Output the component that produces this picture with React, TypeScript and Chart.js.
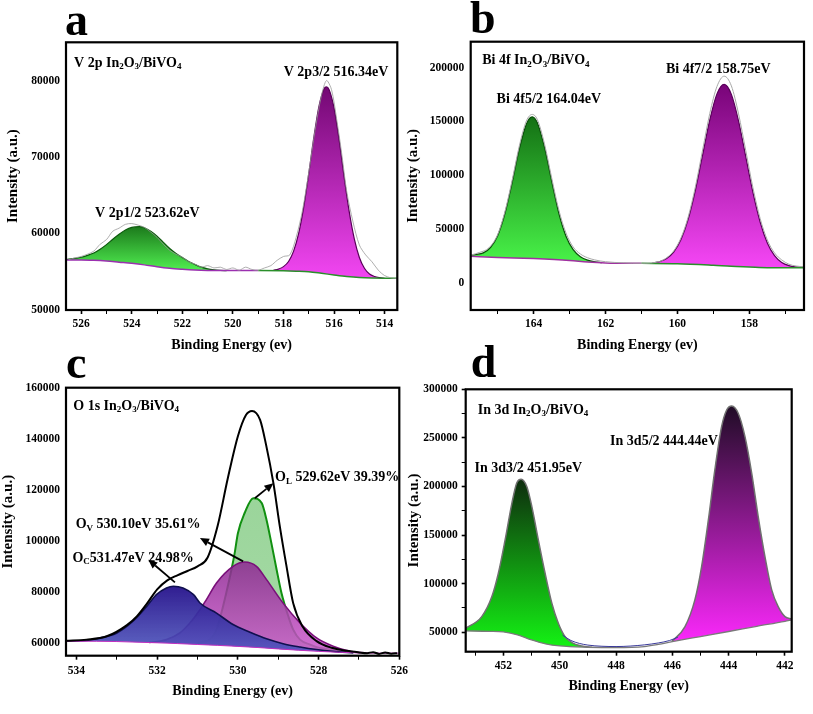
import React, { useEffect, useRef } from 'react';
import { Chart, registerables } from 'chart.js';

Chart.register(...registerables);

const W = 813;
const H = 714;
const SERIF = '"Liberation Serif", "Times New Roman", Times, serif';

// ---------------- Panel a : V 2p ----------------
const aXMajor = [526, 524, 522, 520, 518, 516, 514];
const aXMinor = [525, 523, 521, 519, 517, 515];
const aYMajor = [50000, 60000, 70000, 80000];
const aRawE = [526.5, 526.25, 526, 525.75, 525.5, 525.25, 525, 524.75, 524.5, 524.25, 524, 523.75, 523.5, 523.25, 523, 522.75, 522.5, 522.25, 522, 521.75, 521.5, 521.25, 521, 520.75, 520.5, 520.25, 520, 519.75, 519.5, 519.25, 519, 518.75, 518.5, 518.25, 518, 517.75, 517.5, 517.25, 517, 516.75, 516.5, 516.3, 516.1, 515.9, 515.7, 515.5, 515.25, 515, 514.75, 514.5, 514.25, 514, 513.75, 513.5];
const aRawI = [56600, 56800, 57000, 57300, 57700, 58600, 59200, 60300, 60700, 61200, 61300, 61100, 60800, 60200, 59500, 58600, 57800, 57300, 56900, 56300, 56000, 55600, 55800, 55500, 55600, 55300, 55500, 55200, 55600, 55300, 55200, 55500, 55800, 56500, 57000, 57200, 59500, 63000, 68000, 73500, 78000, 80000, 78800, 75000, 70500, 65500, 61500, 58500, 57200, 56300, 55200, 54500, 54200, 54100];
const aBgE = [526.6, 526, 525.5, 525, 524.5, 524, 523.5, 523, 522.5, 522, 521.5, 521, 520, 519, 518, 517.5, 517, 516.5, 516, 515.5, 515, 514.5, 514, 513.5];
const aBgI = [56550, 56550, 56500, 56400, 56250, 56100, 55900, 55650, 55450, 55320, 55220, 55170, 55150, 55150, 55130, 55080, 55000, 54800, 54580, 54380, 54240, 54170, 54150, 54150];
const a12E = [526.6, 526.25, 526, 525.75, 525.5, 525.25, 525, 524.75, 524.5, 524.25, 524, 523.7, 523.5, 523.25, 523, 522.75, 522.5, 522.25, 522, 521.75, 521.5, 521.25, 521, 520.75, 520.5, 520.25];
const a12I = [56600, 56750, 56900, 57150, 57450, 57950, 58550, 59250, 59900, 60450, 60800, 60900, 60750, 60300, 59650, 58850, 58050, 57400, 56850, 56350, 55950, 55600, 55380, 55250, 55180, 55150];
const a32E = [518.4, 518.2, 518, 517.8, 517.6, 517.4, 517.2, 517, 516.8, 516.6, 516.4, 516.3, 516.2, 516, 515.8, 515.6, 515.4, 515.2, 515, 514.8, 514.6, 514.4, 514.2, 514];
const a32I = [55200, 55350, 55670, 56340, 57700, 60020, 63450, 67870, 72560, 76600, 78900, 79170, 78830, 76400, 72200, 67300, 62830, 59300, 56870, 55460, 54700, 54380, 54230, 54150];

// ---------------- Panel b : Bi 4f ----------------
const bXMajor = [164, 162, 160, 158];
const bXMinor = [165, 163, 161, 159, 157];
const bYMajor = [0, 50000, 100000, 150000, 200000];
const bRawE = [165.75, 165.5, 165.25, 165, 164.8, 164.6, 164.4, 164.2, 164.04, 163.9, 163.7, 163.5, 163.3, 163.1, 162.9, 162.7, 162.5, 162.3, 162, 161.5, 161, 160.5, 160.3, 160.1, 159.9, 159.7, 159.5, 159.3, 159.1, 158.9, 158.7, 158.5, 158.3, 158.1, 157.9, 157.7, 157.5, 157.3, 157.1, 156.9, 156.7, 156.5];
const bRawI = [25900, 28500, 32500, 45000, 66000, 95000, 127000, 150500, 156500, 152000, 129500, 98000, 68000, 46500, 33500, 27000, 23500, 21500, 19800, 18800, 18400, 20000, 23500, 30000, 42000, 61500, 89500, 123500, 157500, 182500, 192000, 183000, 157000, 123000, 88500, 60000, 40000, 28000, 21500, 17500, 15800, 15200];
const bBgE = [165.75, 165, 164, 163, 162.5, 162, 161, 160, 159, 158.5, 158, 157.5, 157, 156.5];
const bBgI = [24900, 23800, 22700, 21000, 19600, 18700, 18300, 18000, 16500, 15500, 14900, 14300, 14200, 14200];
const b52E = [165.75, 165.6, 165.4, 165.2, 165, 164.8, 164.6, 164.4, 164.2, 164.04, 163.9, 163.7, 163.5, 163.3, 163.1, 162.9, 162.7, 162.5, 162.3, 162.1];
const b52I = [25800, 26500, 28000, 33000, 44000, 64300, 92800, 124000, 147700, 154300, 149000, 126300, 94800, 65000, 43500, 31000, 24500, 21300, 19800, 19000];
const b72E = [160.7, 160.5, 160.3, 160.1, 159.9, 159.7, 159.5, 159.3, 159.1, 158.9, 158.7, 158.5, 158.3, 158.1, 157.9, 157.7, 157.5, 157.3, 157.1, 156.9, 156.7, 156.5];
const b72I = [18500, 19870, 22720, 28890, 40330, 59270, 86270, 118900, 151400, 175600, 184400, 175100, 150300, 117300, 84170, 56670, 37230, 25390, 19120, 16170, 14950, 14500];

// ---------------- Panel c : O 1s ----------------
const cXMajor = [534, 532, 530, 528, 526];
const cXMinor = [533, 531, 529, 527];
const cYMajor = [60000, 80000, 100000, 120000, 140000, 160000];
const cEnvE = [534.26, 533.75, 533.25, 532.75, 532.5, 532.25, 532, 531.75, 531.5, 531.25, 531, 530.75, 530.5, 530.25, 530, 529.8, 529.65, 529.45, 529.3, 529.12, 528.96, 528.8, 528.63, 528.4, 528.05, 527.65, 527.3, 527, 526.8, 526.65, 526.5, 526.35, 526.2, 526.05];
const cEnvI = [60900, 61300, 62600, 67000, 70500, 75500, 81000, 84500, 86500, 88200, 90000, 93500, 106000, 124500, 141000, 149300, 150900, 147400, 137500, 122600, 105600, 90500, 75600, 66500, 60700, 58000, 56900, 56300, 56000, 56400, 55700, 56300, 55800, 56000];
const cBgE = [534.26, 533.5, 533, 532.5, 532, 531.5, 531, 530.5, 530, 529.5, 529, 528.5, 528, 527.5, 527, 526.5, 526];
const cBgI = [60700, 60650, 60550, 60300, 60050, 59750, 59400, 59050, 58650, 58200, 57650, 57150, 56700, 56350, 56100, 56000, 56000];
const cOCE = [534.25, 534, 533.75, 533.42, 533, 532.6, 532.26, 532.02, 531.77, 531.6, 531.36, 531.1, 530.94, 530.53, 530.12, 529.7, 529.29, 528.88, 528.46, 528.05, 527.64, 527.14];
const cOCI = [60750, 60800, 61000, 61950, 63900, 68500, 74300, 78900, 81500, 82200, 81500, 78900, 75650, 71700, 67200, 64200, 61600, 59700, 58400, 57400, 56700, 56100];
const cOVE = [532.2, 531.77, 531.44, 531.19, 530.94, 530.78, 530.53, 530.12, 529.83, 529.54, 529.29, 528.88, 528.46, 528.05, 527.64, 527.22, 526.81];
const cOVI = [60150, 61300, 63900, 67800, 73000, 77000, 83500, 90000, 91700, 90000, 84800, 75600, 67800, 61950, 58700, 56700, 56100];
const cOLE = [531, 530.9, 530.7, 530.53, 530.41, 530.29, 530.16, 530.08, 530, 529.83, 529.62, 529.41, 529.29, 529.17, 529.04, 528.92, 528.75, 528.63, 528.46, 528.21, 527.97, 527.64, 527.3];
const cOLI = [60000, 60400, 61300, 65200, 71700, 79500, 88700, 95200, 103000, 111000, 116700, 114800, 108200, 99100, 88700, 79600, 70400, 65200, 61300, 59350, 58000, 57400, 56800];

// ---------------- Panel d : In 3d ----------------
const dXMajor = [452, 450, 448, 446, 444, 442];
const dXMinor = [453, 451, 449, 447, 445, 443];
const dYMajor = [50000, 100000, 150000, 200000, 250000, 300000];
const dYMinor = [75000, 125000, 175000, 225000, 275000];
const dBgE = [453.34, 452.5, 452, 451.5, 451, 450.5, 450, 449, 448, 447, 446.5, 446, 445, 444, 443, 442, 441.76];
const dBgI = [51400, 51000, 50300, 47300, 42100, 38000, 35900, 34600, 34200, 35300, 37600, 40400, 45600, 50800, 56100, 61300, 62700];
const dEnvE = [449.9, 449.6, 449.3, 449, 448.5, 448, 447.5, 447, 446.5, 446.1, 445.8];
const dEnvI = [47000, 41500, 38500, 36800, 35600, 35300, 35800, 37000, 39000, 41500, 45000];
const d32E = [453.34, 452.77, 452.41, 452.18, 451.94, 451.7, 451.53, 451.37, 451.17, 450.99, 450.76, 450.52, 450.28, 450.05, 449.81, 449.57, 449.22, 448.86];
const d32I = [54100, 66100, 86700, 110700, 145000, 182700, 203300, 207400, 199900, 179300, 145000, 110700, 79800, 59300, 45500, 39400, 35900, 34600];
const d52E = [446.02, 445.55, 445.2, 444.96, 444.72, 444.49, 444.25, 444.07, 443.89, 443.66, 443.42, 443.18, 442.95, 442.71, 442.47, 442.24, 442, 441.76];
const d52I = [40400, 55800, 83300, 117600, 165600, 217000, 261600, 278700, 282800, 275300, 251300, 213600, 169000, 127800, 93600, 76400, 66100, 63500];

// ---------------- text ----------------
type Seg = { t: string; sub?: boolean };
type Label = { x: number; y: number; parts: Seg[] };
type Arrow = { from: [number, number]; to: [number, number] };

const sample = (pre: string): Seg[] => [
  { t: pre + ' In' }, { t: '2', sub: true }, { t: 'O' }, { t: '3', sub: true }, { t: '/BiVO' }, { t: '4', sub: true },
];

const zip = (xs: number[], ys: number[]) => xs.map((x, i) => ({ x, y: ys[i] }));

function grad(top: string, bottom: string, I: number[]) {
  const hi = Math.max(...I);
  const lo = Math.min(...I);
  return (ctx: any) => {
    const ch = ctx.chart;
    const y = ch.scales && ch.scales.y;
    if (!ch.chartArea || !y) return bottom;
    const g = ch.ctx.createLinearGradient(0, y.getPixelForValue(hi), 0, y.getPixelForValue(lo));
    g.addColorStop(0, top);
    g.addColorStop(1, bottom);
    return g;
  };
}

function line(E: number[], I: number[], color: string, width: number, extra: any = {}) {
  return {
    type: 'line',
    data: zip(E, I),
    borderColor: color,
    borderWidth: width,
    pointRadius: 0,
    pointHoverRadius: 0,
    fill: false,
    cubicInterpolationMode: 'monotone',
    ...extra,
  };
}

function peak(E: number[], I: number[], border: string, top: string, bottom: string, target: number, width = 1.2) {
  return line(E, I, border, width, { fill: target, backgroundColor: grad(top, bottom, I) });
}

function splitColor(thr: number, left: string, right: string) {
  return { borderColor: (c: any) => (c.p0.parsed.x > thr ? left : right) };
}

type Panel = {
  area: { l: number; t: number; r: number; b: number };
  yTitleX: number; xTitleY: number; xPad: number; yPad: number; yTickColor: string;
  xMin: number; xMax: number; yMin: number; yMax: number;
  xMajor: number[]; xMinor: number[]; yMajor: number[]; yMinor: number[];
  letter: string; letterDx: number; letterDy: number;
  labels: Label[]; arrows: Arrow[];
  datasets: () => any[];
};

const PANELS: Panel[] = [
  {
    area: { l: 66, t: 42.3, r: 397.3, b: 310 },
    yTitleX: 13.3, xTitleY: 345, xPad: 3, yPad: 2, yTickColor: 'rgba(0,0,0,0)',
    xMin: 513.5, xMax: 526.6, yMin: 50000, yMax: 85000,
    xMajor: aXMajor, xMinor: aXMinor, yMajor: aYMajor, yMinor: [],
    letter: 'a', letterDx: -1, letterDy: -7.3,
    labels: [
      { x: 526.28, y: 82300, parts: sample('V 2p') },
      { x: 517.99, y: 81090, parts: [{ t: 'V 2p3/2 516.34eV' }] },
      { x: 525.45, y: 62660, parts: [{ t: 'V 2p1/2 523.62eV' }] },
    ],
    arrows: [],
    datasets: () => [
      line(aRawE, aRawI, '#9a9a9a', 0.8, { cubicInterpolationMode: 'default', tension: 0.3 }),
      line(aBgE, aBgI, '#9b30b0', 1.5, { segment: splitColor(519, '#9b30b0', '#2a8f2a') }),
      peak(a32E, a32I, '#5a005a', 'rgb(115,8,115)', 'rgb(242,70,242)', 1),
      peak(a12E, a12I, '#0c5a0c', 'rgb(28,122,28)', 'rgb(80,238,80)', 1),
    ],
  },
  {
    area: { l: 470.7, t: 41.7, r: 804, b: 310 },
    yTitleX: 413.3, xTitleY: 345, xPad: 3, yPad: 2.4, yTickColor: 'rgba(0,0,0,0)',
    xMin: 156.48, xMax: 165.75, yMin: -25000, yMax: 224000,
    xMajor: bXMajor, xMinor: bXMinor, yMajor: bYMajor, yMinor: [],
    letter: 'b', letterDx: -0.7, letterDy: -8.4,
    labels: [
      { x: 165.43, y: 206200, parts: sample('Bi 4f') },
      { x: 160.32, y: 198400, parts: [{ t: 'Bi 4f7/2 158.75eV' }] },
      { x: 165.03, y: 170400, parts: [{ t: 'Bi 4f5/2 164.04eV' }] },
    ],
    arrows: [],
    datasets: () => [
      line(bRawE, bRawI, '#a8a8a8', 1),
      line(bBgE, bBgI, '#a030a0', 1.5, { segment: splitColor(161.5, '#a030a0', '#2a8f2a') }),
      peak(b72E, b72I, '#5a005a', 'rgb(120,4,120)', 'rgb(245,70,245)', 1),
      peak(b52E, b52I, '#0a4f0a', 'rgb(20,112,20)', 'rgb(72,242,72)', 1),
    ],
  },
  {
    area: { l: 66, t: 387.7, r: 399.3, b: 655.7 },
    yTitleX: 7.7, xTitleY: 691.7, xPad: 4.4, yPad: 2, yTickColor: 'rgba(0,0,0,0)',
    xMin: 526, xMax: 534.26, yMin: 55000, yMax: 160000,
    xMajor: cXMajor, xMinor: cXMinor, yMajor: cYMajor, yMinor: [],
    letter: 'c', letterDx: 0, letterDy: -9.4,
    labels: [
      { x: 534.08, y: 152800, parts: sample('O 1s') },
      { x: 529.08, y: 124800, parts: [{ t: 'O' }, { t: 'L', sub: true }, { t: ' 529.62eV 39.39%' }] },
      { x: 534.02, y: 106300, parts: [{ t: 'O' }, { t: 'V', sub: true }, { t: ' 530.10eV 35.61%' }] },
      { x: 534.1, y: 93250, parts: [{ t: 'O' }, { t: 'C', sub: true }, { t: '531.47eV 24.98%' }] },
    ],
    arrows: [
      { from: [529.58, 116700], to: [529.12, 122600] },
      { from: [529.87, 91940], to: [530.94, 101070] },
      { from: [531.56, 83730], to: [532.22, 92600] },
    ],
    datasets: () => [
      line(cEnvE, cEnvI, '#000000', 2),
      line(cBgE, cBgI, '#c030c0', 1),
      peak(cOCE, cOCI, '#10104f', 'rgba(40,20,140,0.96)', 'rgba(78,86,190,0.9)', 1, 1.6),
      peak(cOVE, cOVI, '#7a107a', 'rgba(140,38,145,0.85)', 'rgba(205,88,205,0.85)', 1, 1.6),
      peak(cOLE, cOLI, '#119011', 'rgba(72,178,72,0.55)', 'rgba(92,188,92,0.55)', 1, 2),
    ],
  },
  {
    area: { l: 465.7, t: 389.3, r: 791.7, b: 651.7 },
    yTitleX: 413.7, xTitleY: 686.7, xPad: 3.7, yPad: 4, yTickColor: '#000',
    xMin: 441.76, xMax: 453.34, yMin: 30000, yMax: 300000,
    xMajor: dXMajor, xMinor: dXMinor, yMajor: dYMajor, yMinor: dYMinor,
    letter: 'd', letterDx: 5, letterDy: -12.3,
    labels: [
      { x: 452.91, y: 278700, parts: sample('In 3d') },
      { x: 448.21, y: 246200, parts: [{ t: 'In 3d5/2 444.44eV' }] },
      { x: 453.03, y: 218700, parts: [{ t: 'In 3d3/2 451.95eV' }] },
    ],
    arrows: [],
    datasets: () => [
      line(dEnvE, dEnvI, '#3a3a9a', 1),
      line(dBgE, dBgI, '#7a7a7a', 1.3),
      peak(d52E, d52I, '#707070', 'rgb(32,12,38)', 'rgb(250,40,250)', 1, 1.5),
      peak(d32E, d32I, '#707070', 'rgb(14,44,14)', 'rgb(20,242,20)', 1, 1.5),
    ],
  },
];

function makePlugin(p: Panel) {
  return {
    id: 'panelDecor',
    afterDatasetsDraw(chart: any) {
      const { ctx, chartArea: ca, scales } = chart;
      const sx = (v: number) => scales.x.getPixelForValue(v);
      const sy = (v: number) => scales.y.getPixelForValue(v);
      ctx.save();
      ctx.strokeStyle = '#000';
      ctx.lineWidth = 2.2;
      ctx.strokeRect(ca.left, ca.top, ca.right - ca.left, ca.bottom - ca.top);
      ctx.fillStyle = '#000';
      ctx.textAlign = 'left';
      ctx.textBaseline = 'alphabetic';
      ctx.font = `bold 46px ${SERIF}`;
      ctx.fillText(p.letter, ca.left + p.letterDx, ca.top + p.letterDy);
      ctx.textBaseline = 'middle';
      for (const lb of p.labels) {
        let px = sx(lb.x);
        const py = sy(lb.y);
        for (const s of lb.parts) {
          ctx.font = s.sub ? `bold 9px ${SERIF}` : `bold 14px ${SERIF}`;
          ctx.fillText(s.t, px, s.sub ? py + 4 : py);
          px += ctx.measureText(s.t).width;
        }
      }
      ctx.strokeStyle = '#000';
      ctx.lineWidth = 1.8;
      for (const ar of p.arrows) {
        const x0 = sx(ar.from[0]), y0 = sy(ar.from[1]);
        const x1 = sx(ar.to[0]), y1 = sy(ar.to[1]);
        const a = Math.atan2(y1 - y0, x1 - x0);
        const hl = 9, hw = 4;
        const bx = x1 - hl * Math.cos(a), by = y1 - hl * Math.sin(a);
        ctx.beginPath();
        ctx.moveTo(x0, y0);
        ctx.lineTo(bx, by);
        ctx.stroke();
        ctx.beginPath();
        ctx.moveTo(x1, y1);
        ctx.lineTo(bx + hw * Math.sin(a), by - hw * Math.cos(a));
        ctx.lineTo(bx - hw * Math.sin(a), by + hw * Math.cos(a));
        ctx.closePath();
        ctx.fill();
      }
      ctx.restore();
    },
  };
}

function buildConfig(p: Panel): any {
  const { l, t, r, b } = p.area;
  const padLeft = p.yTitleX - 7.5;
  const yWidth = l - padLeft;
  const xHeight = p.xTitleY - b + 7;
  const padBottom = H - b - xHeight;
  const xTicks = [...p.xMajor, ...p.xMinor].sort((m, n) => m - n);
  const yTicks = [...p.yMajor, ...p.yMinor].sort((m, n) => m - n);
  const tickFont = { family: SERIF, size: 11.5, weight: 'bold' as const };
  return {
    type: 'line',
    data: { datasets: p.datasets() },
    options: {
      responsive: false,
      animation: false,
      events: [],
      layout: { padding: { left: padLeft, top: t, right: W - r, bottom: padBottom } },
      plugins: { legend: { display: false }, tooltip: { enabled: false }, title: { display: false } },
      scales: {
        x: {
          type: 'linear',
          reverse: true,
          min: p.xMin,
          max: p.xMax,
          afterBuildTicks: (s: any) => { s.ticks = xTicks.map((v) => ({ value: v })); },
          afterFit: (s: any) => { s.height = xHeight; },
          ticks: {
            autoSkip: false, maxRotation: 0, minRotation: 0, padding: p.xPad, color: '#000', font: tickFont,
            callback: (v: any) => (p.xMajor.includes(v) ? String(v) : ''),
          },
          grid: {
            drawOnChartArea: false, drawTicks: true, tickLength: 4, tickColor: '#000',
            tickWidth: (c: any) => (c.tick && p.xMajor.includes(c.tick.value) ? 1.6 : 1),
          },
          border: { display: false },
          title: { display: true, text: 'Binding Energy (ev)', color: '#000', padding: 0, font: { family: SERIF, size: 14, weight: 'bold', lineHeight: 1 } },
        },
        y: {
          type: 'linear',
          min: p.yMin,
          max: p.yMax,
          afterBuildTicks: (s: any) => { s.ticks = yTicks.map((v) => ({ value: v })); },
          afterFit: (s: any) => { s.width = yWidth; },
          ticks: {
            autoSkip: false, padding: p.yPad, color: '#000', font: tickFont,
            callback: (v: any) => (p.yMajor.includes(v) ? String(v) : ''),
          },
          grid: {
            drawOnChartArea: false, drawTicks: true, tickLength: 4, tickColor: p.yTickColor,
            tickWidth: (c: any) => (c.tick && p.yMajor.includes(c.tick.value) ? 1.6 : 1),
          },
          border: { display: false },
          title: { display: true, text: 'Intensity (a.u.)', color: '#000', padding: 0, font: { family: SERIF, size: 15, weight: 'bold', lineHeight: 1 } },
        },
      },
    },
    plugins: [makePlugin(p)],
  };
}

export default function App() {
  const r0 = useRef<HTMLCanvasElement>(null);
  const r1 = useRef<HTMLCanvasElement>(null);
  const r2 = useRef<HTMLCanvasElement>(null);
  const r3 = useRef<HTMLCanvasElement>(null);
  const refs = [r0, r1, r2, r3];

  useEffect(() => {
    const charts: Chart[] = [];
    refs.forEach((ref, i) => {
      if (ref.current) charts.push(new Chart(ref.current, buildConfig(PANELS[i])));
    });
    return () => charts.forEach((c) => c.destroy());
  }, []);

  return (
    <div style={{ position: 'absolute', left: 0, top: 0, width: W, height: H, background: '#fff', overflow: 'hidden' }}>
      {refs.map((ref, i) => (
        <canvas
          key={i}
          ref={ref}
          width={W}
          height={H}
          style={{ position: 'absolute', left: 0, top: 0, width: W, height: H }}
        />
      ))}
    </div>
  );
}
